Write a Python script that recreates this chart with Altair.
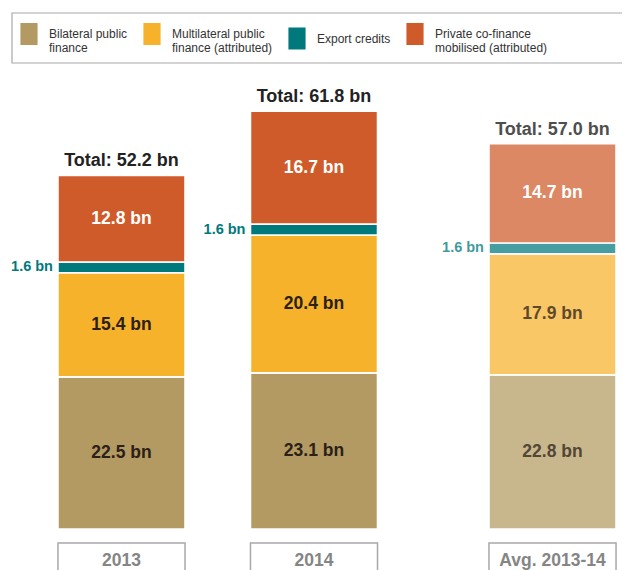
import altair as alt
import pandas as pd

# ---------------- data ----------------
periods = ["2013", "2014", "Avg. 2013-14"]
series = [
    "Bilateral public|finance",
    "Multilateral public|finance (attributed)",
    "Export credits",
    "Private co-finance|mobilised (attributed)",
]
bilateral = [22.5, 23.1, 22.8]
multilateral = [15.4, 20.4, 17.9]
export_credits = [1.6, 1.6, 1.6]
private_cofinance = [12.8, 16.7, 14.7]
totals = [52.2, 61.8, 57.0]

# ---------------- style / layout ----------------
colors = ["#B39A62", "#F7B22B", "#00797D", "#D05B2A"]
FONT = "Liberation Sans, Arial, sans-serif"
SLOT = {"2013": 0.0, "2014": 1.0, "Avg. 2013-14": 2.239}
HALF = 0.33
AVG = "Avg. 2013-14"

values = [bilateral, multilateral, export_credits, private_cofinance]
rows = []
tot_rows = []
for i, p in enumerate(periods):
    base = 0.0
    for s, vals in zip(series, values):
        v = vals[i]
        rows.append(dict(period=p, series=s, y0=base, y1=base + v, mid=base + v / 2,
                         xl=SLOT[p] - HALF, xr=SLOT[p] + HALF, xc=SLOT[p],
                         label=f"{v:.1f} bn"))
        base += v
    tot_rows.append(dict(period=p, top=base, xc=SLOT[p], xl=SLOT[p] - HALF, xr=SLOT[p] + HALF,
                         label=f"Total: {totals[i]:.1f} bn"))
df = pd.DataFrame(rows)
tdf = pd.DataFrame(tot_rows)

xs = alt.Scale(domain=[-0.5896, 2.6], nice=False, zero=False)
ys = alt.Scale(domain=[-6.065, 77.07], nice=False, zero=False)
is_avg = alt.datum.period == AVG

base = alt.Chart(df)

bars = base.mark_bar(stroke="white", strokeWidth=1.6).encode(
    x=alt.X("xl:Q", scale=xs, axis=None),
    x2="xr:Q",
    y=alt.Y("y0:Q", scale=ys, axis=None),
    y2="y1:Q",
    color=alt.Color(
        "series:N",
        scale=alt.Scale(domain=series, range=colors),
        legend=alt.Legend(
            title=None, orient="none", legendX=10, legendY=15,
            direction="horizontal", columns=4,
            symbolType="M-0.78,-1H0.78V1H-0.78Z", symbolSize=484,
            symbolStrokeWidth=0, symbolOpacity=1,
            labelFont=FONT, labelFontSize=12, labelColor="#333",
            labelExpr="split(datum.label, '|')", labelOffset=9,
            columnPadding=13, padding=0, labelLimit=220,
        ),
    ),
    opacity=alt.condition(is_avg, alt.value(0.72), alt.value(1.0)),
)

seg_text = dict(font=FONT, fontWeight="bold", fontSize=17.5, baseline="middle")

dark_labels = base.transform_filter(
    alt.FieldOneOfPredicate(field="series", oneOf=[series[0], series[1]])
).mark_text(color="#2b2118", **seg_text).encode(
    x=alt.X("xc:Q", scale=xs), y=alt.Y("mid:Q", scale=ys), text="label:N",
    opacity=alt.condition(is_avg, alt.value(0.75), alt.value(1.0)),
)

white_labels = base.transform_filter(
    alt.datum.series == series[3]
).mark_text(color="#FFFFFF", **seg_text).encode(
    x=alt.X("xc:Q", scale=xs), y=alt.Y("mid:Q", scale=ys), text="label:N",
)

export_labels = base.transform_filter(
    alt.datum.series == series[2]
).mark_text(color="#00797D", font=FONT, fontWeight="bold", fontSize=14.5,
            baseline="middle", align="right", dx=-5).encode(
    x=alt.X("xl:Q", scale=xs), y=alt.Y("mid:Q", scale=ys), text="label:N",
    opacity=alt.condition(is_avg, alt.value(0.75), alt.value(1.0)),
)

total_labels = alt.Chart(tdf).mark_text(
    font=FONT, fontWeight="bold", fontSize=18, color="#222", baseline="alphabetic", dy=-9
).encode(
    x=alt.X("xc:Q", scale=xs), y=alt.Y("top:Q", scale=ys), text="label:N",
    opacity=alt.condition(is_avg, alt.value(0.8), alt.value(1.0)),
)

year_boxes = alt.Chart(tdf).mark_rect(fill="white", stroke="#A8A8A8", strokeWidth=1.5).encode(
    x=alt.X("xl:Q", scale=xs), x2="xr:Q", y=alt.value(535), y2=alt.value(590),
)
year_text = alt.Chart(tdf).mark_text(
    font=FONT, fontWeight="bold", fontSize=17.5, color="#858585", baseline="middle"
).encode(
    x=alt.X("xc:Q", scale=xs), y=alt.value(553), text="period:N",
)

legend_box = alt.Chart(pd.DataFrame({"k": [0]})).mark_rect(
    fill="white", fillOpacity=0, stroke="#A8A8A8", strokeWidth=1.2
).encode(x=alt.value(4), x2=alt.value(660), y=alt.value(5), y2=alt.value(55))

chart = alt.layer(
    legend_box, bars, dark_labels, white_labels, export_labels, total_labels,
    year_boxes, year_text,
).properties(
    width=614, height=562,
    autosize=alt.AutoSizeParams(type="none"),
    padding=0,
    background="white",
).configure_view(strokeWidth=0)

chart.save("out.html", embed_options={"renderer": "svg", "actions": False})
